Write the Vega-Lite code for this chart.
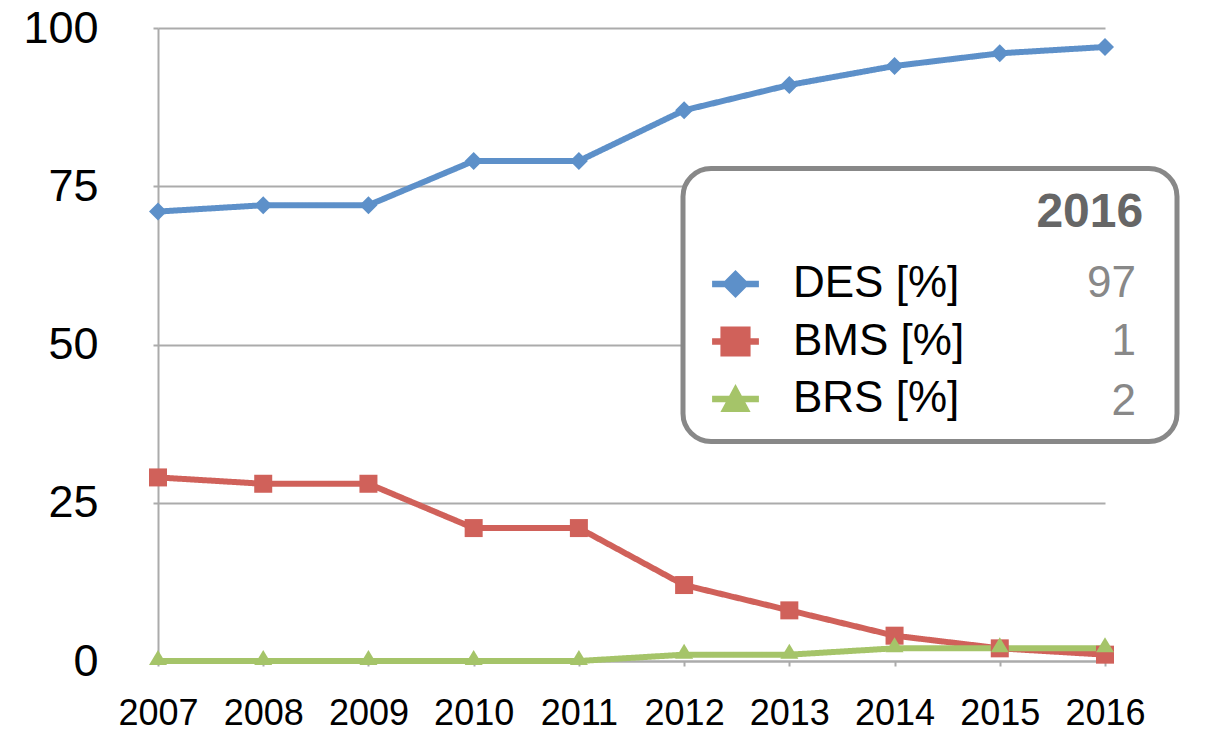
{
  "$schema": "https://vega.github.io/schema/vega-lite/v6.json",
  "width": 947,
  "height": 633,
  "autosize": {"type": "none"},
  "padding": {"left": 158, "top": 28, "right": 108, "bottom": 74},
  "background": "white",
  "config": {
    "view": {"stroke": null},
    "font": "Liberation Sans",
    "axis": {"labelFont": "Liberation Sans", "labelColor": "black", "domainColor": "#ababab", "domainWidth": 2, "tickColor": "#ababab", "tickWidth": 2, "tickSize": 5, "gridColor": "#ababab", "gridWidth": 2}
  },
  "data": {"values": [
    {"year": 2007, "series": "DES [%]", "value": 71, "latest": "97"},
    {"year": 2008, "series": "DES [%]", "value": 72, "latest": "97"},
    {"year": 2009, "series": "DES [%]", "value": 72, "latest": "97"},
    {"year": 2010, "series": "DES [%]", "value": 79, "latest": "97"},
    {"year": 2011, "series": "DES [%]", "value": 79, "latest": "97"},
    {"year": 2012, "series": "DES [%]", "value": 87, "latest": "97"},
    {"year": 2013, "series": "DES [%]", "value": 91, "latest": "97"},
    {"year": 2014, "series": "DES [%]", "value": 94, "latest": "97"},
    {"year": 2015, "series": "DES [%]", "value": 96, "latest": "97"},
    {"year": 2016, "series": "DES [%]", "value": 97, "latest": "97"},
    {"year": 2007, "series": "BMS [%]", "value": 29, "latest": "1"},
    {"year": 2008, "series": "BMS [%]", "value": 28, "latest": "1"},
    {"year": 2009, "series": "BMS [%]", "value": 28, "latest": "1"},
    {"year": 2010, "series": "BMS [%]", "value": 21, "latest": "1"},
    {"year": 2011, "series": "BMS [%]", "value": 21, "latest": "1"},
    {"year": 2012, "series": "BMS [%]", "value": 12, "latest": "1"},
    {"year": 2013, "series": "BMS [%]", "value": 8, "latest": "1"},
    {"year": 2014, "series": "BMS [%]", "value": 4, "latest": "1"},
    {"year": 2015, "series": "BMS [%]", "value": 2, "latest": "1"},
    {"year": 2016, "series": "BMS [%]", "value": 1, "latest": "1"},
    {"year": 2007, "series": "BRS [%]", "value": 0, "latest": "2"},
    {"year": 2008, "series": "BRS [%]", "value": 0, "latest": "2"},
    {"year": 2009, "series": "BRS [%]", "value": 0, "latest": "2"},
    {"year": 2010, "series": "BRS [%]", "value": 0, "latest": "2"},
    {"year": 2011, "series": "BRS [%]", "value": 0, "latest": "2"},
    {"year": 2012, "series": "BRS [%]", "value": 1, "latest": "2"},
    {"year": 2013, "series": "BRS [%]", "value": 1, "latest": "2"},
    {"year": 2014, "series": "BRS [%]", "value": 2, "latest": "2"},
    {"year": 2015, "series": "BRS [%]", "value": 2, "latest": "2"},
    {"year": 2016, "series": "BRS [%]", "value": 2, "latest": "2"}
  ]},
  "encoding": {
    "x": {"field": "year", "type": "quantitative", "scale": {"domain": [2007, 2016], "nice": false, "zero": false},
      "axis": {"title": null, "values": [2007, 2008, 2009, 2010, 2011, 2012, 2013, 2014, 2015, 2016], "format": "d", "grid": false, "labelFontSize": 36, "labelPadding": 30, "labelFlush": false, "labelOverlap": false}},
    "y": {"field": "value", "type": "quantitative", "scale": {"domain": [0, 100], "nice": false},
      "axis": {"title": null, "values": [0, 25, 50, 75, 100], "grid": true, "labelFontSize": 45, "labelPadding": 55}}
  },
  "layer": [
    {
      "mark": {"type": "line", "strokeWidth": 6},
      "encoding": {
        "color": {"field": "series", "type": "nominal",
          "scale": {"domain": ["DES [%]", "BMS [%]", "BRS [%]"], "range": ["#5d90c9", "#d0615a", "#a5c469"]},
          "legend": {
            "orient": "none", "legendX": 525, "legendY": 140.5,
            "title": "\u200b\u00a0\u00a0\u00a0\u00a0\u00a0\u00a0\u00a0\u00a0\u00a0\u00a0\u00a0\u00a0\u00a0\u00a0\u00a0\u00a0\u00a0\u00a0\u00a0\u00a0\u00a0\u00a0\u00a0\u00a0\u00a02016\u00a0\u200b", "titleAnchor": "start", "titleFontSize": 48, "titleFontWeight": "bold", "titleColor": "#666666", "titleFont": "Liberation Sans", "titlePadding": 25, "titleLimit": 800,
            "padding": 20, "fillColor": "white", "strokeColor": "#888888", "cornerRadius": 28,
            "symbolSize": 2025, "symbolOffset": 10, "labelOffset": 35, "rowPadding": 12.5,
            "labelFontSize": 44, "labelColor": "black", "labelFont": "Liberation Sans", "labelLimit": 1000,
            "zindex": 1,
            "encode": {
              "legend": {"update": {"strokeWidth": {"value": 5}}},
              "symbols": {"update": {
              "fill": {"scale": "color", "field": "value"},
              "stroke": {"value": "transparent"},
              "strokeWidth": {"value": 0},
              "opacity": {"value": 1},
              "shape": {"signal": "datum.value === 'DES [%]' ? 'M-1.04,-0.14H1.04V0.14H-1.04Z M0,-0.62L0.62,0L0,0.62L-0.62,0Z' : datum.value === 'BMS [%]' ? 'M-1.04,-0.14H1.04V0.14H-1.04Z M-0.67,-0.67H0.67V0.67H-0.67Z' : 'M-1.04,-0.14H1.04V0.14H-1.04Z M0,-0.67L0.67,0.58L-0.67,0.58Z'"}
            }}}
          }},
        "strokeDash": {"field": "latest", "type": "nominal",
          "scale": {"domain": ["97", "1", "2"], "range": [[1, 0], [1, 0], [1, 0]]},
          "legend": {
            "orient": "none", "legendX": 933, "legendY": 233.5, "title": null, "padding": 0,
            "symbolSize": 2025, "symbolOpacity": 0, "symbolStrokeWidth": 0, "symbolFillColor": "transparent", "labelOffset": 0, "labelAlign": "right",
            "rowPadding": 12.5, "labelFontSize": 44, "labelColor": "#888888", "labelFont": "Liberation Sans", "zindex": 2,
            "encode": {"symbols": {"update": {"opacity": {"value": 0}}}}
          }}
      }
    },
    {
      "mark": {"type": "point", "filled": true, "size": 400, "opacity": 1, "strokeWidth": 0},
      "encoding": {
        "color": {"field": "series", "type": "nominal", "legend": null},
        "shape": {"field": "latest", "type": "nominal", "legend": null,
          "scale": {"domain": ["97", "1", "2"], "range": ["M0,-0.9L0.9,0L0,0.9L-0.9,0Z", "M-0.9,-0.9H0.9V0.9H-0.9Z", "M0,-1.1L0.9,0.4L-0.9,0.4Z"]}}
      }
    }
  ]
}
